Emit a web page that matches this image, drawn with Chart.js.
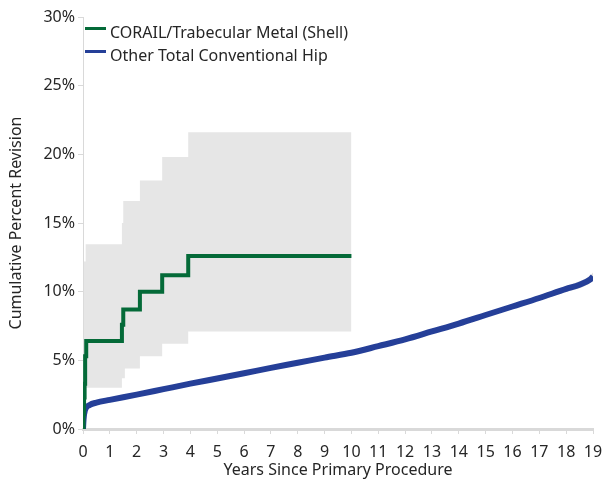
<!DOCTYPE html>
<html>
<head>
<meta charset="utf-8">
<script src="https://cdn.jsdelivr.net/npm/chart.js@4"></script>
<style>
    html, body { margin: 0; padding: 0; background: #fff; }
    #wrap { width: 604px; height: 492px; }
</style>
</head>
<body>
<div id="wrap"><canvas id="grafRevisao"></canvas></div>
<script>
// dados
const greenYears = [0, 0.02, 0.04, 0.06, 0.08, 0.12, 1.45, 1.5, 2.12, 2.95, 3.92, 10];
const greenPct = [0, 1.1, 2.3, 3.3, 5.3, 6.4, 7.6, 8.7, 10.0, 11.2, 12.6, 12.6];

// intervalo de confianca (faixa cinza)
const bandYears = [0, 0.03, 0.1, 1.45, 1.5, 1.56, 2.12, 2.95, 3.92, 10];
const bandUpper = [0, 12.2, 13.45, 15.0, 16.6, 16.6, 18.1, 19.8, 21.6, 21.6];
const bandLower = [0, 0.3, 3.0, 3.7, 3.7, 4.4, 5.3, 6.2, 7.1, 7.1];

const blueYears = [0, 0.02, 0.07, 0.25, 0.5, 1, 2, 3, 4, 5, 6, 7, 8, 9, 10, 11, 12, 13, 14, 15, 16, 17, 18, 18.5, 18.9, 19];
const bluePct = [0, 0.7, 1.35, 1.75, 1.92, 2.12, 2.5, 2.9, 3.3, 3.68, 4.06, 4.45, 4.82, 5.2, 5.55, 6.03, 6.52, 7.1, 7.68, 8.3, 8.92, 9.54, 10.2, 10.5, 10.9, 11.1];
const blueUpper = [0, 0.75, 1.4, 1.8, 1.97, 2.17, 2.55, 2.95, 3.35, 3.73, 4.11, 4.5, 4.88, 5.26, 5.62, 6.1, 6.6, 7.19, 7.78, 8.42, 9.06, 9.72, 10.42, 10.75, 11.17, 11.4];
const blueLower = [0, 0.65, 1.3, 1.7, 1.87, 2.07, 2.45, 2.85, 3.25, 3.63, 4.01, 4.4, 4.76, 5.14, 5.48, 5.96, 6.44, 7.01, 7.58, 8.18, 8.78, 9.36, 9.98, 10.25, 10.63, 10.8];

const yTicks = [0, 5, 10, 15, 20, 25, 30];

function pts(xs, ys) {
    return xs.map((x, i) => ({ x: x, y: ys[i] }));
}

const fonte = "'Noto Sans', sans-serif";
const corTexto = '#262626';

// legenda desenhada dentro da area do grafico (canto superior esquerdo)
const legendaPlugin = {
    id: 'legenda',
    afterDraw(chart) {
        const ctx = chart.ctx;
        ctx.save();
        ctx.font = "16px " + fonte;
        ctx.textBaseline = 'middle';
        chart.data.datasets.slice(0, 2).forEach((ds, i) => {
            const y = 33 + i * 23;
            ctx.fillStyle = ds.borderColor;
            ctx.fillRect(85, y - 6, 21, 3);
            ctx.fillStyle = corTexto;
            ctx.fillText(ds.label, 110, y);
        });
        ctx.restore();
    }
};

document.addEventListener('DOMContentLoaded', function () {
    const ctx = document.getElementById('grafRevisao').getContext('2d');
    const cinza = '#e6e6e6';

    new Chart(ctx, {
        type: 'line',
        data: {
            datasets: [
                {
                    label: 'CORAIL/Trabecular Metal (Shell)',
                    data: pts(greenYears, greenPct),
                    borderColor: '#046a38',
                    backgroundColor: '#046a38',
                    borderWidth: 4,
                    stepped: true,
                    pointRadius: 0,
                    fill: false,
                    order: 0
                },
                {
                    label: 'Other Total Conventional Hip',
                    data: pts(blueYears, bluePct),
                    borderColor: '#253f98',
                    backgroundColor: '#253f98',
                    borderWidth: 6,
                    cubicInterpolationMode: 'monotone',
                    pointRadius: 0,
                    fill: false,
                    order: 1
                },
                {
                    label: 'band-up',
                    data: pts(bandYears, bandUpper),
                    borderWidth: 0,
                    borderColor: 'transparent',
                    backgroundColor: cinza,
                    stepped: true,
                    pointRadius: 0,
                    fill: '+1',
                    order: 3
                },
                {
                    label: 'band-low',
                    data: pts(bandYears, bandLower),
                    borderWidth: 0,
                    borderColor: 'transparent',
                    stepped: true,
                    pointRadius: 0,
                    fill: false,
                    order: 3
                },
                {
                    label: 'blue-up',
                    data: pts(blueYears, blueUpper),
                    borderWidth: 0,
                    borderColor: 'transparent',
                    backgroundColor: '#dedede',
                    cubicInterpolationMode: 'monotone',
                    pointRadius: 0,
                    fill: '+1',
                    order: 2
                },
                {
                    label: 'blue-low',
                    data: pts(blueYears, blueLower),
                    borderWidth: 0,
                    borderColor: 'transparent',
                    cubicInterpolationMode: 'monotone',
                    pointRadius: 0,
                    fill: false,
                    order: 2
                }
            ]
        },
        options: {
            responsive: true,
            maintainAspectRatio: false,
            animation: false,
            layout: {
                padding: { top: 17, right: 11, left: 0, bottom: 0 }
            },
            plugins: {
                legend: { display: false },
                tooltip: { enabled: false }
            },
            scales: {
                x: {
                    type: 'linear',
                    min: 0,
                    max: 19,
                    ticks: {
                        stepSize: 1,
                        color: corTexto,
                        padding: 9,
                        font: { family: fonte, size: 16 }
                    },
                    grid: {
                        drawOnChartArea: false,
                        drawTicks: true,
                        tickLength: 5,
                        color: '#d9d9d9'
                    },
                    border: { display: true, color: '#d9d9d9', width: 3 },
                    title: {
                        display: true,
                        text: 'Years Since Primary Procedure',
                        color: corTexto,
                        font: { family: fonte, size: 16 },
                        padding: { top: 0, bottom: 12 }
                    },
                    afterFit: function (scale) {
                        scale.height = 63;
                        scale.paddingLeft = 0;
                        scale.paddingRight = 0;
                    }
                },
                y: {
                    min: 0,
                    max: 30,
                    afterBuildTicks: function (scale) {
                        scale.ticks = yTicks.map(v => ({ value: v }));
                    },
                    ticks: {
                        color: corTexto,
                        padding: 3,
                        font: { family: fonte, size: 16 },
                        callback: (v) => v + '%'
                    },
                    grid: {
                        drawOnChartArea: false,
                        drawTicks: true,
                        tickLength: 5,
                        color: '#d9d9d9'
                    },
                    border: { display: true, color: '#d9d9d9', width: 1 },
                    title: {
                        display: true,
                        text: 'Cumulative Percent Revision',
                        color: corTexto,
                        font: { family: fonte, size: 16 },
                        padding: { top: 7, bottom: 0 }
                    },
                    afterFit: function (scale) {
                        scale.width = 83;
                        scale.paddingTop = 0;
                        scale.paddingBottom = 0;
                    }
                }
            }
        },
        plugins: [legendaPlugin]
    });
});
</script>
</body>
</html>
